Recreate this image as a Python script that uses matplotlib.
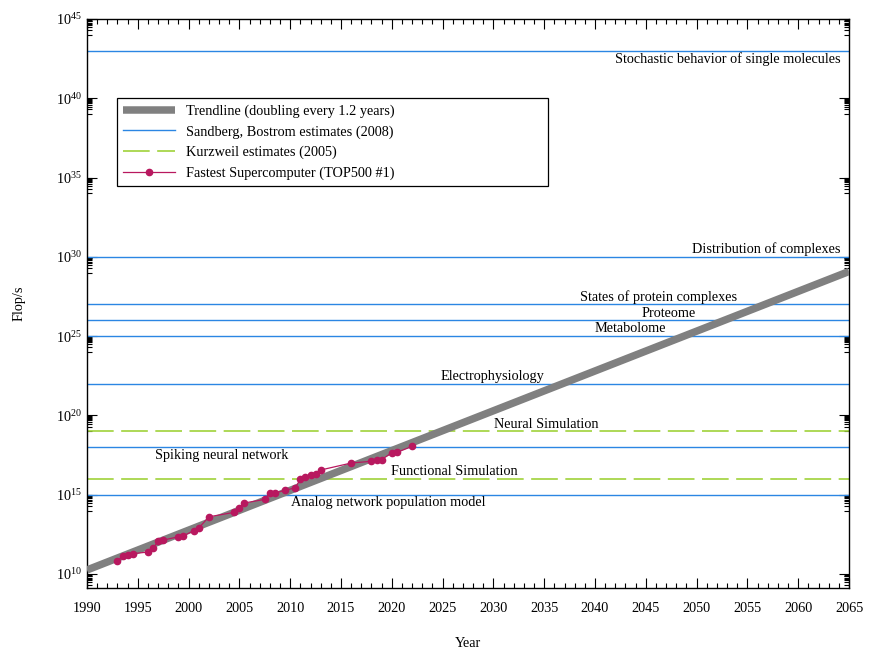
import numpy as np
import matplotlib
matplotlib.use("Agg")
from matplotlib import pyplot as plt
from matplotlib.ticker import FixedLocator, LogFormatterSciNotation, MultipleLocator, NullFormatter

plt.rcParams["font.family"] = ["Liberation Serif", "DejaVu Serif"]
plt.rcParams["mathtext.fontset"] = "custom"
plt.rcParams["mathtext.rm"] = "Liberation Serif"
plt.rcParams["mathtext.it"] = "Liberation Serif:italic"
plt.rcParams["font.size"] = 10.3

#%% data

# trendline, doubling every 1.2 years (end points)
trend_years = [1990, 2065]
trend_flops = [1.8e10, 1.2e29]

# Sandberg, Bostrom estimates (2008)
sb_labels = ["Stochastic behavior of single molecules", "Distribution of complexes",
             "States of protein complexes", "Proteome", "Metabolome",
             "Electrophysiology", "Spiking neural network",
             "Analog network population model"]
sb_flops = [1e43, 1e30, 1e27, 1e26, 1e25, 1e22, 1e18, 1e15]

# Kurzweil estimates (2005)
kz_labels = ["Neural Simulation", "Functional Simulation"]
kz_flops = [1e19, 1e16]

# TOP500 #1
top_years = [1993, 1993.5, 1994, 1994.5, 1996, 1996.5, 1997, 1997.5, 1999, 1999.5,
             2000.5, 2001, 2002, 2004.5, 2005, 2005.5, 2007.5, 2008, 2008.5, 2009.5,
             2010.5, 2011, 2011.5, 2012, 2012.5, 2013, 2016, 2018, 2018.5, 2019,
             2020, 2020.5, 2022]
top_log_flops = [10.82, 11.13, 11.22, 11.28, 11.39, 11.62, 12.06, 12.14, 12.35, 12.41,
                 12.73, 12.90, 13.61, 13.89, 14.18, 14.48, 14.71, 15.09, 15.11, 15.28,
                 15.44, 15.97, 16.10, 16.26, 16.31, 16.56, 17.00, 17.11, 17.19, 17.21,
                 17.65, 17.67, 18.05]
top_flops = [10.0**v for v in top_log_flops]

# label placement: (year, above line?, alignment)
sb_text_pos = [(2064.2, False, "right"), (2064.2, True, "right"), (2046.3, True, "center"),
               (2047.3, True, "center"), (2043.5, True, "center"), (2029.9, True, "center"),
               (2003.3, False, "center"), (2019.7, False, "center")]
kz_text_pos = [(2035.2, True, "center"), (2026.2, True, "center")]

blue = "#2b86e3"
green = "#9fd23a"
crimson = "#b8185f"

#%% plot

fig = plt.figure(figsize=(8.92, 6.55), dpi=100)
ax = fig.add_axes([0.0975, 0.1023, 0.8543, 0.8687])

ax.plot(trend_years, trend_flops, color="#808080", lw=5.4, solid_capstyle="butt",
        label="Trendline (doubling every 1.2 years)", zorder=3)

for i, v in enumerate(sb_flops):
    ax.axhline(v, color=blue, lw=1.0, zorder=2,
               label="Sandberg, Bostrom estimates (2008)" if i == 0 else None)
for i, v in enumerate(kz_flops):
    ax.axhline(v, color=green, lw=1.2, dashes=(16, 4.5), zorder=2,
               label="Kurzweil estimates (2005)" if i == 0 else None)

ax.plot(top_years, top_flops, color=crimson, lw=0.9, marker="o", ms=4.5,
        label="Fastest Supercomputer (TOP500 #1)", zorder=4)

for lab, v, (x, above, ha) in zip(sb_labels + kz_labels, sb_flops + kz_flops,
                                  sb_text_pos + kz_text_pos):
    ax.annotate(lab, (x, v), xytext=(0, 0.5 if above else -1.2), textcoords="offset points",
                ha=ha, va="bottom" if above else "top", zorder=5)

ax.set_yscale("log")
ax.set_xlim(1990, 2065)
ax.set_ylim(10**9.12, 1e45)

majors = [10.0**k for k in range(10, 46, 5)]
ax.yaxis.set_major_locator(FixedLocator(majors))
ax.yaxis.set_major_formatter(LogFormatterSciNotation())
ax.yaxis.set_minor_locator(FixedLocator([m * 10.0**(k - 1) for k in range(10, 46, 5)
                                         for m in range(1, 10)]))
ax.yaxis.set_minor_formatter(NullFormatter())
ax.xaxis.set_major_locator(MultipleLocator(5))
ax.xaxis.set_minor_locator(MultipleLocator(1))

ax.tick_params(which="both", direction="in", top=True, right=True, width=0.8)
ax.tick_params(which="major", length=7)
ax.tick_params(which="minor", length=3.5)
ax.tick_params(axis="x", pad=10)
for s in ax.spines.values():
    s.set_linewidth(1.0)

ax.set_xlabel("Year", labelpad=16)
ax.set_ylabel("Flop/s", labelpad=22)

leg = ax.legend(loc="upper left", bbox_to_anchor=(0.0394, 0.708, 0.5656, 0.153),
                mode="expand", fancybox=False, framealpha=1, edgecolor="black",
                handlelength=3.6, handletextpad=0.8, labelspacing=0.5,
                borderpad=0.45, borderaxespad=0)
leg.get_frame().set_linewidth(0.9)

plt.savefig("out.png", dpi=100)
